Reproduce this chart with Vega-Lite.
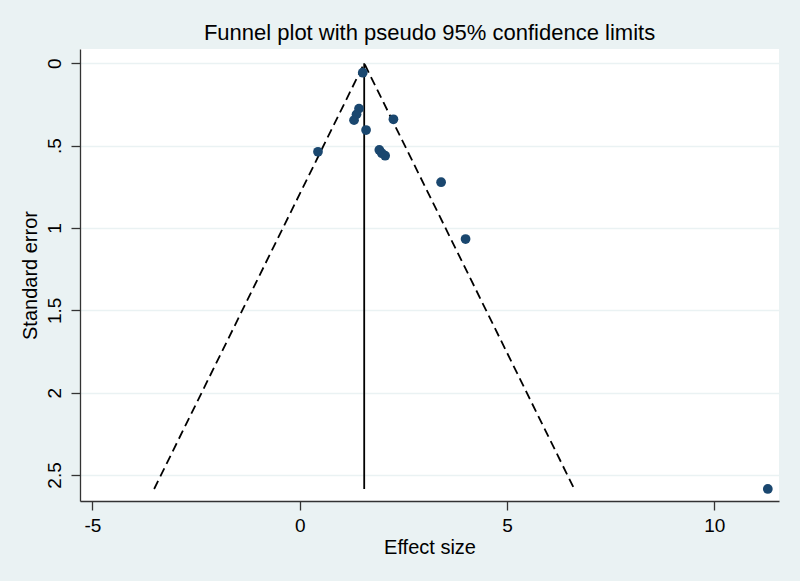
{
  "$schema": "https://vega.github.io/schema/vega-lite/v6.json",
  "autosize": "none",
  "width": 699,
  "height": 452,
  "padding": {"left": 80, "top": 49, "right": 21, "bottom": 80},
  "background": "#EAF2F3",
  "title": {
    "text": "Funnel plot with pseudo 95% confidence limits",
    "font": "Liberation Sans",
    "fontSize": 22,
    "fontWeight": "normal",
    "color": "#000000",
    "anchor": "middle",
    "baseline": "alphabetic",
    "offset": -13
  },
  "config": {
    "view": {"fill": "#FFFFFF", "stroke": null},
    "axis": {
      "labelFont": "Liberation Sans",
      "titleFont": "Liberation Sans",
      "labelFontSize": 19,
      "titleFontSize": 20,
      "titleFontWeight": "normal",
      "labelColor": "#000000",
      "titleColor": "#000000",
      "domainColor": "#333333",
      "tickColor": "#333333",
      "tickSize": 9,
      "domainWidth": 1.3,
      "tickWidth": 1.3
    }
  },
  "datasets": {
    "points": [
      {"es": 1.52, "se": 0.057},
      {"es": 1.43, "se": 0.275},
      {"es": 1.37, "se": 0.31},
      {"es": 1.31, "se": 0.345},
      {"es": 2.26, "se": 0.34},
      {"es": 1.6, "se": 0.405},
      {"es": 0.44, "se": 0.537},
      {"es": 1.92, "se": 0.526},
      {"es": 1.98, "se": 0.546},
      {"es": 2.06, "se": 0.561},
      {"es": 3.41, "se": 0.722},
      {"es": 4.0, "se": 1.067},
      {"es": 11.29, "se": 2.585}
    ],
    "funnel": [
      {"es": -3.512, "se": 2.585, "ord": 1},
      {"es": 1.555, "se": 0, "ord": 2},
      {"es": 6.622, "se": 2.585, "ord": 3}
    ],
    "pooled": [
      {"es": 1.555, "se0": 0, "se1": 2.585}
    ]
  },
  "layer": [
    {
      "data": {"name": "funnel"},
      "mark": {"type": "line", "color": "#000000", "strokeWidth": 1.8, "strokeDash": [9, 5]},
      "encoding": {
        "x": {
          "field": "es", "type": "quantitative",
          "scale": {"domain": [-5.3, 11.56], "nice": false, "zero": false},
          "axis": {"values": [-5, 0, 5, 10], "labelExpr": "'' + datum.value", "grid": false, "title": "Effect size", "labelPadding": 6, "titlePadding": 2}
        },
        "y": {
          "field": "se", "type": "quantitative",
          "scale": {"domain": [-0.087, 2.658], "nice": false, "zero": false, "reverse": true},
          "axis": {
            "values": [0, 0.5, 1, 1.5, 2, 2.5],
            "labelExpr": "datum.value == 0.5 ? '.5' : format(datum.value, '~g')",
            "labelAngle": -90,
            "labelAlign": "center",
            "labelBaseline": "bottom",
            "labelPadding": 7,
            "grid": true,
            "gridColor": "#EAF2F3",
            "gridWidth": 1.5,
            "title": "Standard error",
            "titlePadding": 5
          }
        },
        "order": {"field": "ord", "type": "quantitative"}
      }
    },
    {
      "data": {"name": "pooled"},
      "mark": {"type": "rule", "color": "#000000", "strokeWidth": 1.8},
      "encoding": {
        "x": {"field": "es", "type": "quantitative"},
        "y": {"field": "se0", "type": "quantitative"},
        "y2": {"field": "se1"}
      }
    },
    {
      "data": {"name": "points"},
      "mark": {"type": "point", "filled": true, "shape": "circle", "size": 95, "color": "#1A476F", "opacity": 1},
      "encoding": {
        "x": {"field": "es", "type": "quantitative"},
        "y": {"field": "se", "type": "quantitative"}
      }
    }
  ]
}
